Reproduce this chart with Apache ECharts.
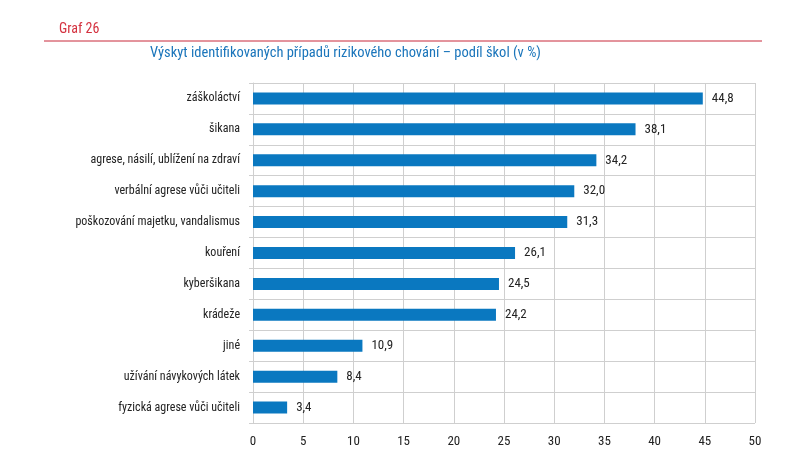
<!DOCTYPE html>
<html><head><meta charset="utf-8">
<script src="https://cdn.jsdelivr.net/npm/echarts@6/dist/echarts.min.js"></script>
<style>html,body{margin:0;padding:0;background:#fff}#c{width:805px;height:473px}</style>
</head><body><div id="c"></div>
<script>
const categories = ["záškoláctví","šikana","agrese, násilí, ublížení na zdraví","verbální agrese vůči učiteli","poškozování majetku, vandalismus","kouření","kyberšikana","krádeže","jiné","užívání návykových látek","fyzická agrese vůči učiteli"];
const values = [44.8,38.1,34.2,32.0,31.3,26.1,24.5,24.2,10.9,8.4,3.4];
const xTicks = [0,5,10,15,20,25,30,35,40,45,50];
const FONT = '"Roboto Condensed","DejaVu Sans Condensed",sans-serif';
const chart = echarts.init(document.getElementById('c'), null, {renderer:'canvas'});
chart.setOption({
  animation:false,
  backgroundColor:'#fff',
  graphic:[
    {type:'text', left:59, top:22, style:{text:'Graf 26', fill:'#d4313f', font:'14px '+FONT}},
    {type:'line', shape:{x1:44,y1:41,x2:762,y2:41}, style:{stroke:'#c8283a', lineWidth:1}},
    {type:'text', left:150, top:46, style:{text:'Výskyt identifikovaných případů rizikového chování – podíl škol (v %)', fill:'#1a75bb', font:'14.5px '+FONT}}
  ],
  grid:{left:253, right:50, top:83, bottom:50, containLabel:false},
  xAxis:{type:'value', min:xTicks[0], max:xTicks[xTicks.length-1], interval:5,
    axisLine:{show:false}, axisTick:{show:false},
    axisLabel:{color:'#222', fontFamily:FONT, fontSize:13, margin:12, formatter:v=>String(v)},
    splitLine:{show:true, lineStyle:{color:'#cfcfcf', width:1}}},
  yAxis:{type:'category', data:categories, inverse:true,
    axisLine:{show:true, lineStyle:{color:'#cfcfcf'}},
    axisTick:{show:true, length:4, lineStyle:{color:'#cfcfcf'}},
    splitLine:{show:true, lineStyle:{color:'#cfcfcf'}},
    axisLabel:{color:'#222', fontFamily:FONT, fontSize:12, margin:13}},
  series:[{type:'bar', data:values, barWidth:12, itemStyle:{color:'#0a78c0'},
    label:{show:true, position:'right', distance:9, color:'#222', fontFamily:FONT, fontSize:13,
      formatter:p=>p.value.toFixed(1).replace('.',',')}}]
});
</script></body></html>
